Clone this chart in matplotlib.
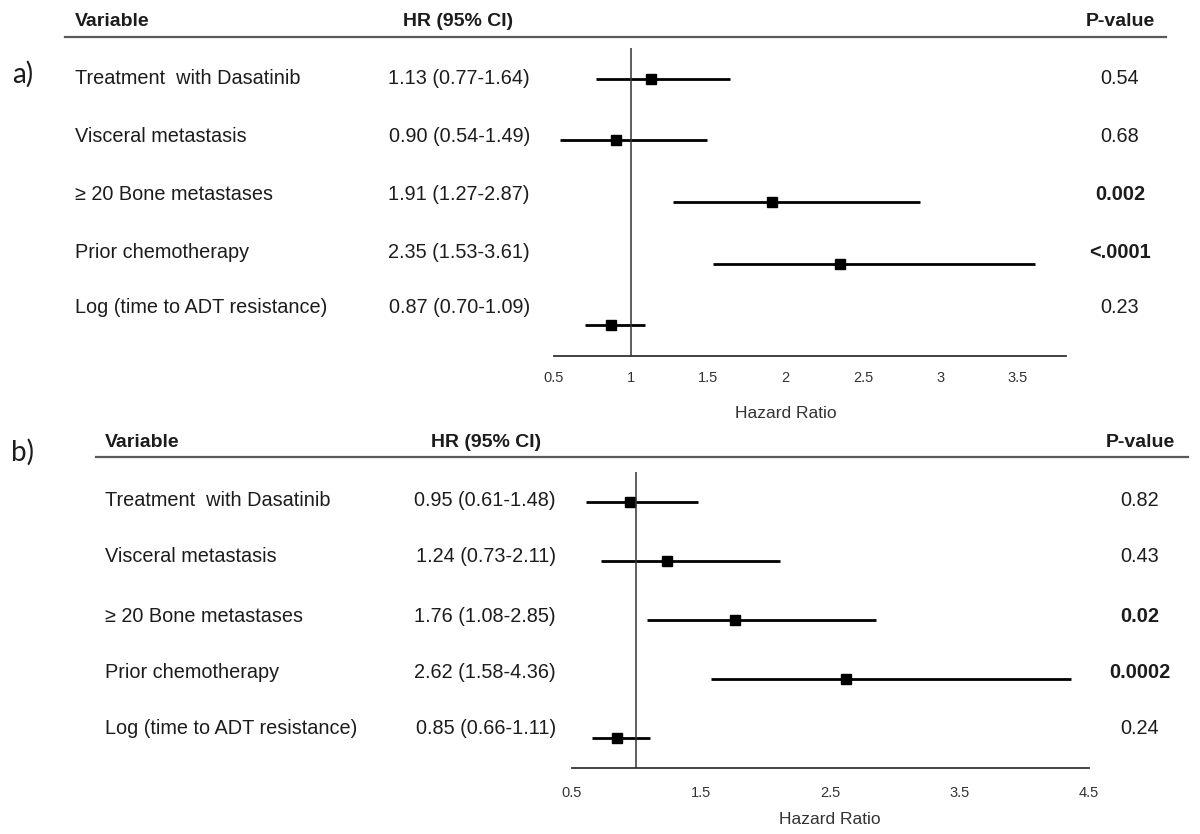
import numpy as np
import matplotlib.pyplot as plt
from matplotlib.lines import Line2D

plt.rcParams['font.family'] = ['Liberation Sans', 'DejaVu Sans']

# ---- data ----
variables = ["Treatment  with Dasatinib", "Visceral metastasis",
             "≥ 20 Bone metastases", "Prior chemotherapy",
             "Log (time to ADT resistance)"]

# a)
hr_a = [1.13, 0.90, 1.91, 2.35, 0.87]
lo_a = [0.77, 0.54, 1.27, 1.53, 0.70]
hi_a = [1.64, 1.49, 2.87, 3.61, 1.09]
p_a = ["0.54", "0.68", "0.002", "<.0001", "0.23"]
ticks_a = [0.5, 1, 1.5, 2, 2.5, 3, 3.5]

# b)
hr_b = [0.95, 1.24, 1.76, 2.62, 0.85]
lo_b = [0.61, 0.73, 1.08, 1.58, 0.66]
hi_b = [1.48, 2.11, 2.85, 4.36, 1.11]
p_b = ["0.82", "0.43", "0.02", "0.0002", "0.24"]
ticks_b = [0.5, 1.5, 2.5, 3.5, 4.5]

# ---- layout (pixels) ----
W, H = 1200, 834
fig = plt.figure(figsize=(12, 8.34), dpi=100)


def fx(x):
    return x / W


def fy(y):
    return 1 - y / H


txt = '#1c1c1c'
fs = 14.3


def p_is_bold(p):
    return float(p.lstrip('<')) < 0.05


def panel(tag, hr, lo, hi, pv, ticks, xmax, lay):
    # tag
    fig.text(fx(lay['tag_x']), fy(lay['tag_y']), tag, fontsize=20,
             family=['Lato', 'DejaVu Sans'], color=txt, va='center')
    # headers
    hy = fy(lay['head_y'])
    fig.text(fx(lay['lab_x']), hy, "Variable", fontsize=14, weight='bold',
             color=txt, va='center')
    fig.text(fx(lay['hr_head_x']), hy, "HR (95% CI)", fontsize=14,
             weight='bold', color=txt, va='center', ha='center')
    fig.text(fx(lay['p_x']), hy, "P-value", fontsize=14, weight='bold',
             color=txt, va='center', ha='center')
    fig.add_artist(Line2D([fx(lay['line_x0']), fx(lay['line_x1'])],
                          [fy(lay['line_y'])] * 2, transform=fig.transFigure,
                          color='#5a5a5a', lw=1.6))

    # rows of text
    for i in range(len(variables)):
        y = fy(lay['rows_y'][i])
        fig.text(fx(lay['lab_x']), y, variables[i], fontsize=fs, color=txt,
                 va='center')
        fig.text(fx(lay['hr_x']), y,
                 "{:.2f} ({:.2f}-{:.2f})".format(hr[i], lo[i], hi[i]),
                 fontsize=fs, color=txt, va='center', ha='right')
        fig.text(fx(lay['p_x']), y, pv[i], fontsize=fs, color=txt,
                 va='center', ha='center',
                 weight='bold' if p_is_bold(pv[i]) else 'normal')

    # forest plot
    l, r, t, b = lay['ax']
    ax = fig.add_axes([fx(l), fy(b), (r - l) / W, (b - t) / H])
    ax.patch.set_alpha(0)
    rows = np.arange(len(hr))
    ax.hlines(rows, lo, hi, color='black', lw=2.0)
    ax.plot(hr, rows, 's', color='black', ms=7.5)
    ax.axvline(1, color='#333333', lw=1.1)
    ax.set_xlim(ticks[0], xmax)
    ax.set_ylim(len(hr) - 0.5, -0.5)
    for s in ['top', 'left', 'right']:
        ax.spines[s].set_visible(False)
    ax.spines['bottom'].set_color('#333333')
    ax.spines['bottom'].set_linewidth(1.3)
    ax.set_yticks([])
    ax.set_xticks(ticks)
    ax.set_xticklabels(["{:g}".format(v) for v in ticks], fontsize=10.5,
                       color='#333333')
    ax.tick_params(axis='x', length=0, pad=lay['tick_pad'])
    fig.text(fx(lay['xl_x']), fy(lay['xl_y']), "Hazard Ratio", fontsize=12.5,
             color='#333333', ha='center', va='center')


panel("a)", hr_a, lo_a, hi_a, p_a, ticks_a, 3.81,
      dict(tag_x=12, tag_y=74, head_y=22, lab_x=75, hr_head_x=458, p_x=1120,
           line_x0=65, line_x1=1166, line_y=37,
           rows_y=[78, 136, 195, 253, 308], hr_x=530,
           ax=(553.8, 1065.5, 48, 356), tick_pad=11, xl_x=786, xl_y=413))

panel("b)", hr_b, lo_b, hi_b, p_b, ticks_b, 4.5,
      dict(tag_x=11, tag_y=452, head_y=442, lab_x=105, hr_head_x=486,
           p_x=1140, line_x0=96, line_x1=1188, line_y=457,
           rows_y=[500, 557, 616, 673, 729], hr_x=556,
           ax=(571.5, 1089, 472, 768), tick_pad=13, xl_x=830, xl_y=820))

fig.savefig("out.png", dpi=100)
